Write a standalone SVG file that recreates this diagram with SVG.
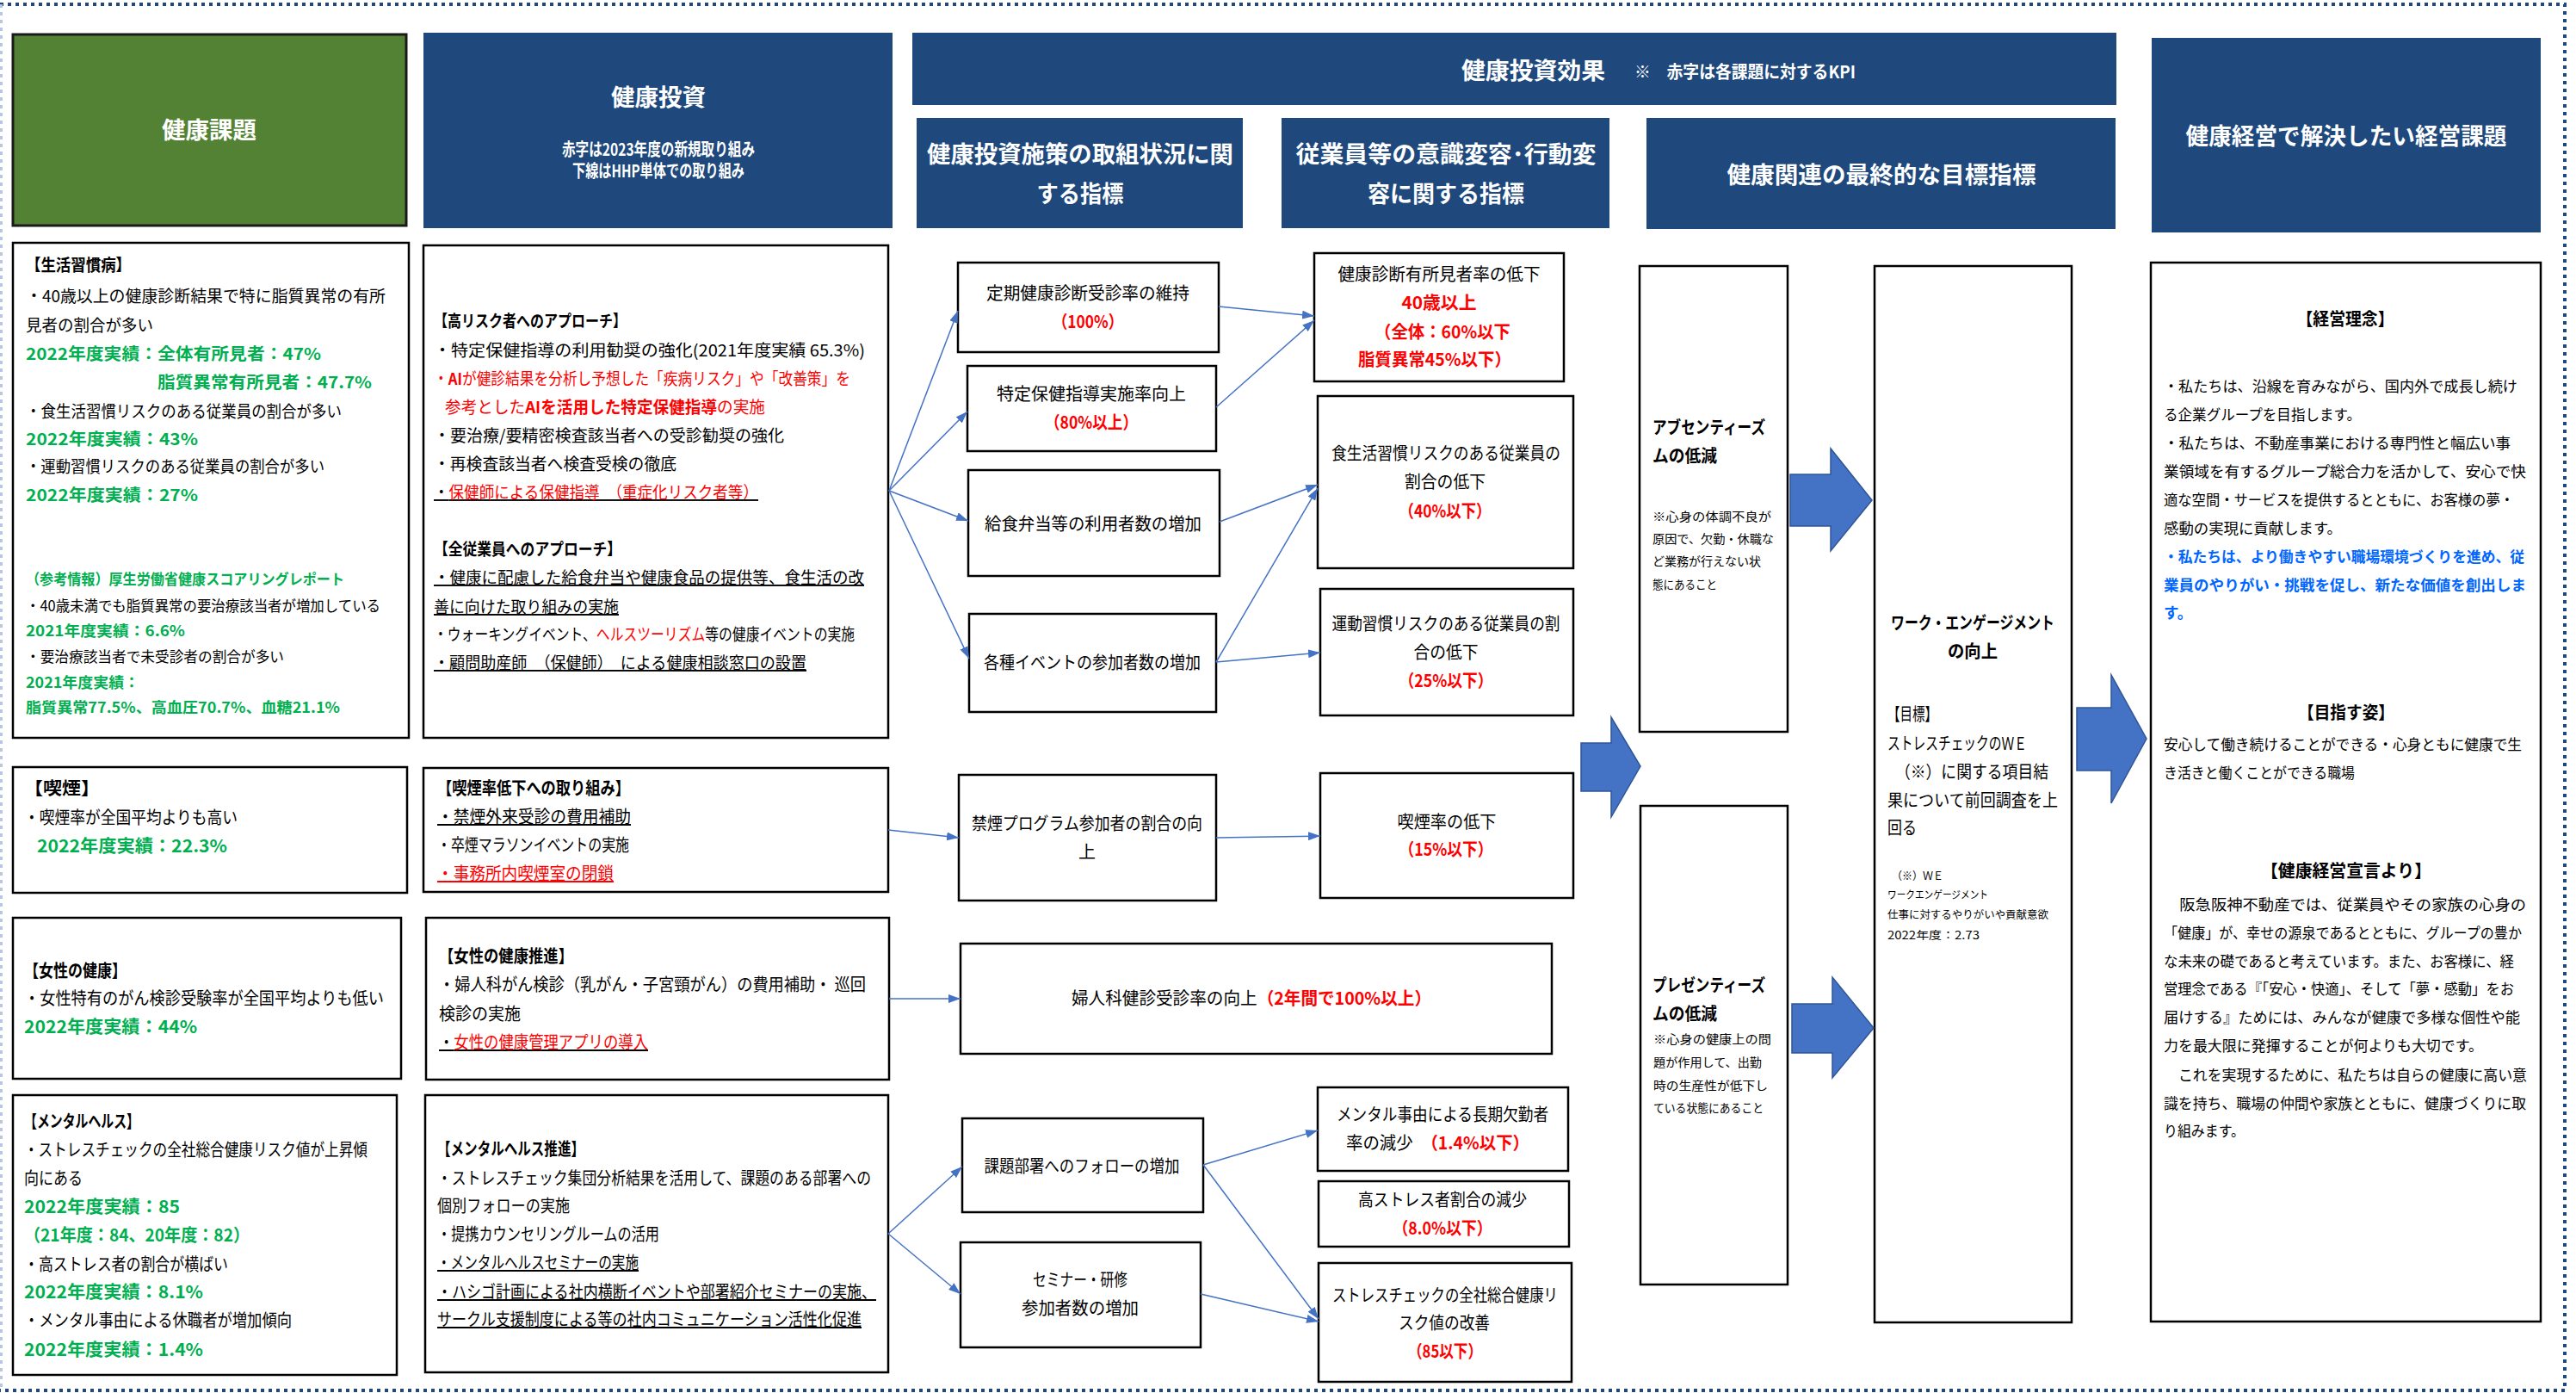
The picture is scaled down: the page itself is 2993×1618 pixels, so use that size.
<svg xmlns="http://www.w3.org/2000/svg" width="2993" height="1618" viewBox="0 0 2993 1618">
<style>
text{font-family:"Noto Sans CJK JP","Noto Sans",sans-serif;fill:#000;font-size:20px}
.b{font-weight:bold}
.g{fill:#00B050;font-weight:bold}
.r{fill:#FF0000}
.rb{fill:#FF0000;font-weight:bold}
.u{text-decoration:underline}
.w{fill:#fff;font-weight:bold}
.hd{fill:#fff;font-weight:bold;font-size:27px}
.m{text-anchor:middle}
.s19{font-size:19px}
.s17{font-size:17px}
.s175{font-size:17.5px}
.s135{font-size:13.5px}
.s125{font-size:12.5px}
.box{fill:#fff;stroke:#000;stroke-width:2.5}
.nav{fill:#1F497D}
.conn{stroke:#4472C4;stroke-width:1.5;fill:none;marker-end:url(#ah)}
.big{fill:#4472C4;stroke:#2F5597;stroke-width:1.5}
.bl{fill:#0066FF;font-weight:bold}
</style>
<defs>
<marker id="ah" viewBox="0 0 14 10" refX="14" refY="5" markerWidth="14" markerHeight="10" markerUnits="userSpaceOnUse" orient="auto"><path d="M0,0 L14,5 L0,10 z" fill="#4472C4"/></marker>
</defs>
<rect width="2993" height="1618" fill="#fff"/>
<g id="frame" fill="none">
<path d="M0,5 H2980 V1615 H0" stroke="#1F497D" stroke-width="4" stroke-dasharray="4 5"/>
<path d="M1.5,5 V1615" stroke="#B4C7E7" stroke-width="3" stroke-dasharray="4 5"/>
</g>

<g id="h-kadai"><rect x="15" y="40" width="457" height="222" fill="#548235" stroke="#1a1a1a" stroke-width="3"/><text class="hd m" x="243" y="161" textLength="110" lengthAdjust="spacingAndGlyphs">健康課題</text></g>
<g id="h-toushi"><rect class="nav" x="492" y="38" width="545" height="227"/><text class="hd m" x="765" y="123" textLength="110" lengthAdjust="spacingAndGlyphs">健康投資</text><text class="w m" x="765" y="181" font-size="15" textLength="224" lengthAdjust="spacingAndGlyphs">赤字は2023年度の新規取り組み</text><text class="w m" x="765" y="206" font-size="15" textLength="200" lengthAdjust="spacingAndGlyphs">下線はHHP単体での取り組み</text></g>
<g id="h-kouka"><rect class="nav" x="1060" y="38" width="1399" height="84"/><text class="hd" x="1698" y="92" textLength="167" lengthAdjust="spacingAndGlyphs">健康投資効果</text><text class="w" x="1899" y="91" font-size="17" textLength="257" lengthAdjust="spacingAndGlyphs">※　赤字は各課題に対するKPI</text></g>
<g id="h-shisaku"><rect class="nav" x="1065" y="137" width="379" height="128"/><text class="hd m" x="1255" y="189" textLength="356" lengthAdjust="spacingAndGlyphs">健康投資施策の取組状況に関</text><text class="hd m" x="1255" y="235" textLength="101" lengthAdjust="spacingAndGlyphs">する指標</text></g>
<g id="h-ishiki"><rect class="nav" x="1489" y="137" width="381" height="128"/><text class="hd m" x="1680" y="189" textLength="349" lengthAdjust="spacingAndGlyphs">従業員等の意識変容･行動変</text><text class="hd m" x="1680" y="235" textLength="182" lengthAdjust="spacingAndGlyphs">容に関する指標</text></g>
<g id="h-saishu"><rect class="nav" x="1913" y="137" width="545" height="129"/><text class="hd m" x="2186" y="213" textLength="359" lengthAdjust="spacingAndGlyphs">健康関連の最終的な目標指標</text></g>
<g id="h-keiei"><rect class="nav" x="2500" y="44" width="452" height="226"/><text class="hd m" x="2726" y="168" textLength="373" lengthAdjust="spacingAndGlyphs">健康経営で解決したい経営課題</text></g>

<g id="n-seikatsu"><rect class="box" x="15" y="282" width="460" height="575"/>
<text class="b s19" x="30" y="315" textLength="122" lengthAdjust="spacingAndGlyphs">【生活習慣病】</text>
<text class="s19" x="30" y="351" textLength="418" lengthAdjust="spacingAndGlyphs">・40歳以上の健康診断結果で特に脂質異常の有所</text>
<text class="s19" x="30" y="385" textLength="148" lengthAdjust="spacingAndGlyphs">見者の割合が多い</text>
<text class="g s19" x="30" y="418" textLength="343" lengthAdjust="spacingAndGlyphs">2022年度実績：全体有所見者：47%</text>
<text class="g s19" x="183" y="451" textLength="249" lengthAdjust="spacingAndGlyphs">脂質異常有所見者：47.7%</text>
<text class="s19" x="30" y="485" textLength="367" lengthAdjust="spacingAndGlyphs">・食生活習慣リスクのある従業員の割合が多い</text>
<text class="g s19" x="30" y="517" textLength="200" lengthAdjust="spacingAndGlyphs">2022年度実績：43%</text>
<text class="s19" x="30" y="549" textLength="347" lengthAdjust="spacingAndGlyphs">・運動習慣リスクのある従業員の割合が多い</text>
<text class="g s19" x="30" y="582" textLength="200" lengthAdjust="spacingAndGlyphs">2022年度実績：27%</text>
<text class="g s17" x="30" y="679" textLength="370" lengthAdjust="spacingAndGlyphs">（参考情報）厚生労働省健康スコアリングレポート</text>
<text class="s17" x="30" y="710" textLength="412" lengthAdjust="spacingAndGlyphs">・40歳未満でも脂質異常の要治療該当者が増加している</text>
<text class="g s17" x="30" y="739" textLength="185" lengthAdjust="spacingAndGlyphs">2021年度実績：6.6%</text>
<text class="s17" x="30" y="769" textLength="300" lengthAdjust="spacingAndGlyphs">・要治療該当者で未受診者の割合が多い</text>
<text class="g s17" x="30" y="799" textLength="132" lengthAdjust="spacingAndGlyphs">2021年度実績：</text>
<text class="g s17" x="30" y="828" textLength="365" lengthAdjust="spacingAndGlyphs">脂質異常77.5%、高血圧70.7%、血糖21.1%</text>
</g>

<g id="n-kitsuen"><rect class="box" x="15" y="891" width="458" height="146"/>
<text class="b" x="28" y="923" textLength="88" lengthAdjust="spacingAndGlyphs">【喫煙】</text>
<text x="28" y="957" textLength="248" lengthAdjust="spacingAndGlyphs">・喫煙率が全国平均よりも高い</text>
<text class="g" x="43" y="990" textLength="221" lengthAdjust="spacingAndGlyphs">2022年度実績：22.3%</text>
</g>
<g id="n-josei"><rect class="box" x="15" y="1066" width="451" height="187"/>
<text class="b" x="28" y="1135" textLength="119" lengthAdjust="spacingAndGlyphs">【女性の健康】</text>
<text x="28" y="1167" textLength="418" lengthAdjust="spacingAndGlyphs">・女性特有のがん検診受験率が全国平均よりも低い</text>
<text class="g" x="28" y="1200" textLength="201" lengthAdjust="spacingAndGlyphs">2022年度実績：44%</text>
</g>
<g id="n-mental"><rect class="box" x="15" y="1272" width="446" height="325"/>
<text class="b" x="28" y="1310" textLength="134" lengthAdjust="spacingAndGlyphs">【メンタルヘルス】</text>
<text x="28" y="1343" textLength="399" lengthAdjust="spacingAndGlyphs">・ストレスチェックの全社総合健康リスク値が上昇傾</text>
<text x="28" y="1376" textLength="68" lengthAdjust="spacingAndGlyphs">向にある</text>
<text class="g" x="28" y="1409" textLength="181" lengthAdjust="spacingAndGlyphs">2022年度実績：85</text>
<text class="g" x="28" y="1442" textLength="262" lengthAdjust="spacingAndGlyphs">（21年度：84、20年度：82）</text>
<text x="28" y="1476" textLength="237" lengthAdjust="spacingAndGlyphs">・高ストレス者の割合が横ばい</text>
<text class="g" x="28" y="1508" textLength="208" lengthAdjust="spacingAndGlyphs">2022年度実績：8.1%</text>
<text x="28" y="1541" textLength="311" lengthAdjust="spacingAndGlyphs">・メンタル事由による休職者が増加傾向</text>
<text class="g" x="28" y="1575" textLength="208" lengthAdjust="spacingAndGlyphs">2022年度実績：1.4%</text>
</g>

<g id="n-koRisk"><rect class="box" x="492" y="285" width="540" height="572"/>
<text class="b s19" x="504" y="380" textLength="224" lengthAdjust="spacingAndGlyphs">【高リスク者へのアプローチ】</text>
<text class="s19" x="504" y="414" textLength="501" lengthAdjust="spacingAndGlyphs">・特定保健指導の利用勧奨の強化(2021年度実績 65.3%)</text>
<text class="s19 r" x="504" y="447" textLength="484" lengthAdjust="spacingAndGlyphs">・<tspan class="rb">AI</tspan>が健診結果を分析し予想した「疾病リスク」や「改善策」を</text>
<text class="s19 r" x="517" y="480" textLength="372" lengthAdjust="spacingAndGlyphs">参考とした<tspan class="rb">AIを活用した特定保健指導</tspan>の実施</text>
<text class="s19" x="504" y="513" textLength="407" lengthAdjust="spacingAndGlyphs">・要治療/要精密検査該当者への受診勧奨の強化</text>
<text class="s19" x="504" y="546" textLength="282" lengthAdjust="spacingAndGlyphs">・再検査該当者へ検査受検の徹底</text>
<text class="s19 u" x="504" y="579" textLength="377" lengthAdjust="spacingAndGlyphs">・<tspan class="r">保健師による保健指導　（重症化リスク者等）</tspan></text>
<text class="b s19" x="504" y="645" textLength="218" lengthAdjust="spacingAndGlyphs">【全従業員へのアプローチ】</text>
<text class="s19 u" x="504" y="678" textLength="500" lengthAdjust="spacingAndGlyphs">・健康に配慮した給食弁当や健康食品の提供等、食生活の改</text>
<text class="s19 u" x="504" y="712" textLength="215" lengthAdjust="spacingAndGlyphs">善に向けた取り組みの実施</text>
<text class="s19" x="0" y="0" transform="translate(504 744) scale(0.832 1)">・ウォーキングイベント、<tspan class="r">ヘルスツーリズム</tspan>等の健康イベントの実施</text>
<text class="s19 u" x="504" y="777" textLength="433" lengthAdjust="spacingAndGlyphs">・顧問助産師　（保健師）　による健康相談窓口の設置</text>
</g>

<g id="n-kinen"><rect class="box" x="492" y="892" width="540" height="144"/>
<text class="b" x="508" y="923" textLength="224" lengthAdjust="spacingAndGlyphs">【喫煙率低下への取り組み】</text>
<text class="u" x="508" y="956" textLength="225" lengthAdjust="spacingAndGlyphs">・禁煙外来受診の費用補助</text>
<text x="508" y="989" textLength="223" lengthAdjust="spacingAndGlyphs">・卒煙マラソンイベントの実施</text>
<text class="u r" x="508" y="1022" textLength="205" lengthAdjust="spacingAndGlyphs">・事務所内喫煙室の閉鎖</text>
</g>
<g id="n-joseiSuishin"><rect class="box" x="495" y="1066" width="538" height="188"/>
<text class="b" x="510" y="1118" textLength="156" lengthAdjust="spacingAndGlyphs">【女性の健康推進】</text>
<text x="510" y="1151" textLength="496" lengthAdjust="spacingAndGlyphs">・婦人科がん検診（乳がん・子宮頸がん）の費用補助・ 巡回</text>
<text x="510" y="1185" textLength="95" lengthAdjust="spacingAndGlyphs">検診の実施</text>
<text class="u" x="510" y="1218" textLength="243" lengthAdjust="spacingAndGlyphs">・<tspan class="r">女性の健康管理アプリの導入</tspan></text>
</g>
<g id="n-mentalSuishin"><rect class="box" x="494" y="1272" width="538" height="322"/>
<text class="b" x="508" y="1342" textLength="171" lengthAdjust="spacingAndGlyphs">【メンタルヘルス推進】</text>
<text x="508" y="1376" textLength="504" lengthAdjust="spacingAndGlyphs">・ストレスチェック集団分析結果を活用して、課題のある部署への</text>
<text x="508" y="1408" textLength="154" lengthAdjust="spacingAndGlyphs">個別フォローの実施</text>
<text x="508" y="1441" textLength="258" lengthAdjust="spacingAndGlyphs">・提携カウンセリングルームの活用</text>
<text class="u" x="508" y="1474" textLength="234" lengthAdjust="spacingAndGlyphs">・メンタルヘルスセミナーの実施</text>
<text class="u" x="508" y="1508" textLength="510" lengthAdjust="spacingAndGlyphs">・ハシゴ計画による社内横断イベントや部署紹介セミナーの実施、</text>
<text class="u" x="508" y="1540" textLength="493" lengthAdjust="spacingAndGlyphs">サークル支援制度による等の社内コミュニケーション活性化促進</text>
</g>

<g id="n-teiki"><rect class="box" x="1113" y="305" width="303" height="104"/>
<text class="m" x="1264" y="348" textLength="236" lengthAdjust="spacingAndGlyphs">定期健康診断受診率の維持</text>
<text class="m rb" x="1264" y="381" textLength="82" lengthAdjust="spacingAndGlyphs">（100%）</text></g>
<g id="n-tokutei"><rect class="box" x="1124" y="425" width="289" height="99"/>
<text class="m" x="1268" y="465" textLength="220" lengthAdjust="spacingAndGlyphs">特定保健指導実施率向上</text>
<text class="m rb" x="1268" y="498" textLength="108" lengthAdjust="spacingAndGlyphs">（80%以上）</text></g>
<g id="n-kyushoku"><rect class="box" x="1125" y="546" width="292" height="123"/>
<text class="m" x="1270" y="616" textLength="252" lengthAdjust="spacingAndGlyphs">給食弁当等の利用者数の増加</text></g>
<g id="n-event"><rect class="box" x="1126" y="713" width="287" height="114"/>
<text class="m" x="1269" y="777" textLength="252" lengthAdjust="spacingAndGlyphs">各種イベントの参加者数の増加</text></g>
<g id="n-kinenProg"><rect class="box" x="1114" y="900" width="299" height="146"/>
<text class="m" x="1263" y="964" textLength="268" lengthAdjust="spacingAndGlyphs">禁煙プログラム参加者の割合の向</text>
<text class="m" x="1263" y="997">上</text></g>
<g id="n-fujinka"><rect class="box" x="1116" y="1096" width="687" height="128"/>
<text x="1245" y="1167" textLength="418" lengthAdjust="spacingAndGlyphs">婦人科健診受診率の向上<tspan class="rb">（2年間で100%以上）</tspan></text></g>
<g id="n-kadaiBusho"><rect class="box" x="1118" y="1299" width="280" height="109"/>
<text class="m" x="1257" y="1362" textLength="227" lengthAdjust="spacingAndGlyphs">課題部署へのフォローの増加</text></g>
<g id="n-seminar"><rect class="box" x="1116" y="1443" width="279" height="122"/>
<text class="m" x="1255" y="1494" textLength="110" lengthAdjust="spacingAndGlyphs">セミナー・研修</text>
<text class="m" x="1255" y="1527" textLength="136" lengthAdjust="spacingAndGlyphs">参加者数の増加</text></g>

<g id="n-yushoken"><rect class="box" x="1527" y="294" width="290" height="149"/>
<text class="m" x="1672" y="326" textLength="235" lengthAdjust="spacingAndGlyphs">健康診断有所見者率の低下</text>
<text class="m rb" x="1672" y="359" textLength="87" lengthAdjust="spacingAndGlyphs">40歳以上</text>
<text class="m rb" x="1676" y="393" textLength="158" lengthAdjust="spacingAndGlyphs">（全体：60%以下</text>
<text class="m rb" x="1667" y="425" textLength="178" lengthAdjust="spacingAndGlyphs">脂質異常45%以下）</text></g>
<g id="n-shokuseikatsu"><rect class="box" x="1531" y="460" width="297" height="200"/>
<text class="m" x="1680" y="534" textLength="266" lengthAdjust="spacingAndGlyphs">食生活習慣リスクのある従業員の</text>
<text class="m" x="1679" y="567" textLength="94" lengthAdjust="spacingAndGlyphs">割合の低下</text>
<text class="m rb" x="1679" y="601" textLength="107" lengthAdjust="spacingAndGlyphs">（40%以下）</text></g>
<g id="n-undo"><rect class="box" x="1534" y="684" width="294" height="147"/>
<text class="m" x="1680" y="732" textLength="265" lengthAdjust="spacingAndGlyphs">運動習慣リスクのある従業員の割</text>
<text class="m" x="1680" y="765" textLength="75" lengthAdjust="spacingAndGlyphs">合の低下</text>
<text class="m rb" x="1680" y="798" textLength="109" lengthAdjust="spacingAndGlyphs">（25%以下）</text></g>
<g id="n-kitsuenritsu"><rect class="box" x="1534" y="898" width="294" height="145"/>
<text class="m" x="1681" y="962" textLength="115" lengthAdjust="spacingAndGlyphs">喫煙率の低下</text>
<text class="m rb" x="1680" y="994" textLength="109" lengthAdjust="spacingAndGlyphs">（15%以下）</text></g>
<g id="n-chouki"><rect class="box" x="1531" y="1263" width="291" height="97"/>
<text class="m" x="1676" y="1302" textLength="246" lengthAdjust="spacingAndGlyphs">メンタル事由による長期欠勤者</text>
<text x="1564" y="1335" textLength="213" lengthAdjust="spacingAndGlyphs">率の減少　<tspan class="rb">（1.4%以下）</tspan></text></g>
<g id="n-kostress"><rect class="box" x="1532" y="1372" width="291" height="76"/>
<text class="m" x="1676" y="1401" textLength="196" lengthAdjust="spacingAndGlyphs">高ストレス者割合の減少</text>
<text class="m rb" x="1676" y="1434" textLength="115" lengthAdjust="spacingAndGlyphs">（8.0%以下）</text></g>
<g id="n-stresscheck"><rect class="box" x="1532" y="1467" width="294" height="138"/>
<text class="m" x="1679" y="1512" textLength="262" lengthAdjust="spacingAndGlyphs">ストレスチェックの全社総合健康リ</text>
<text class="m" x="1678" y="1544" textLength="106" lengthAdjust="spacingAndGlyphs">スク値の改善</text>
<text class="m rb" x="1679" y="1577" textLength="86" lengthAdjust="spacingAndGlyphs">（85以下）</text></g>

<g id="n-absent"><rect class="box" x="1905" y="309" width="172" height="541"/>
<text class="b" x="1920" y="504" font-size="16.5" textLength="131" lengthAdjust="spacingAndGlyphs">アブセンティーズ</text>
<text class="b" x="1920" y="537" font-size="16.5" textLength="75" lengthAdjust="spacingAndGlyphs">ムの低減</text>
<text class="s135" x="1920" y="605" textLength="138" lengthAdjust="spacingAndGlyphs">※心身の体調不良が</text>
<text class="s135" x="1920" y="631" textLength="141" lengthAdjust="spacingAndGlyphs">原因で、欠勤・休職な</text>
<text class="s135" x="1920" y="657" textLength="126" lengthAdjust="spacingAndGlyphs">ど業務が行えない状</text>
<text class="s135" x="1920" y="684" textLength="75" lengthAdjust="spacingAndGlyphs">態にあること</text></g>
<g id="n-present"><rect class="box" x="1906" y="936" width="171" height="556"/>
<text class="b" x="1920" y="1152" font-size="16.5" textLength="131" lengthAdjust="spacingAndGlyphs">プレゼンティーズ</text>
<text class="b" x="1920" y="1185" font-size="16.5" textLength="75" lengthAdjust="spacingAndGlyphs">ムの低減</text>
<text class="s135" x="1921" y="1212" textLength="137" lengthAdjust="spacingAndGlyphs">※心身の健康上の問</text>
<text class="s135" x="1921" y="1239" textLength="126" lengthAdjust="spacingAndGlyphs">題が作用して、出勤</text>
<text class="s135" x="1921" y="1266" textLength="133" lengthAdjust="spacingAndGlyphs">時の生産性が低下し</text>
<text class="s135" x="1921" y="1292" textLength="128" lengthAdjust="spacingAndGlyphs">ている状態にあること</text></g>
<g id="n-we"><rect class="box" x="2178" y="309" width="229" height="1227"/>
<text class="b m" x="2292" y="731" font-size="17" textLength="190" lengthAdjust="spacingAndGlyphs">ワーク・エンゲージメント</text>
<text class="b m" x="2292" y="764" font-size="17" textLength="58" lengthAdjust="spacingAndGlyphs">の向上</text>
<text x="2193" y="837" font-size="18" textLength="58" lengthAdjust="spacingAndGlyphs">【目標】</text>
<text x="2193" y="871" font-size="18" textLength="162" lengthAdjust="spacingAndGlyphs">ストレスチェックのＷＥ</text>
<text x="2193" y="904" font-size="18" textLength="187" lengthAdjust="spacingAndGlyphs">　（※）に関する項目結</text>
<text x="2193" y="937" font-size="18" textLength="198" lengthAdjust="spacingAndGlyphs">果について前回調査を上</text>
<text x="2193" y="969" font-size="18" textLength="34" lengthAdjust="spacingAndGlyphs">回る</text>
<text class="s125" x="2198" y="1022" textLength="60" lengthAdjust="spacingAndGlyphs">（※）ＷＥ</text>
<text class="s125" x="2193" y="1044" textLength="117" lengthAdjust="spacingAndGlyphs">ワークエンゲージメント</text>
<text class="s125" x="2193" y="1067" textLength="187" lengthAdjust="spacingAndGlyphs">仕事に対するやりがいや貢献意欲</text>
<text class="s125" x="2193" y="1091" textLength="107" lengthAdjust="spacingAndGlyphs">2022年度：2.73</text></g>

<g id="n-keieikadai"><rect class="box" x="2499" y="305" width="453" height="1230"/>
<text class="b m" x="2725" y="378" font-size="19" textLength="113" lengthAdjust="spacingAndGlyphs">【経営理念】</text>
<text class="s175" x="2514" y="455" textLength="411" lengthAdjust="spacingAndGlyphs">・私たちは、沿線を育みながら、国内外で成長し続け</text>
<text class="s175" x="2514" y="488" textLength="229" lengthAdjust="spacingAndGlyphs">る企業グループを目指します。</text>
<text class="s175" x="2514" y="521" textLength="403" lengthAdjust="spacingAndGlyphs">・私たちは、不動産事業における専門性と幅広い事</text>
<text class="s175" x="2514" y="554" textLength="421" lengthAdjust="spacingAndGlyphs">業領域を有するグループ総合力を活かして、安心で快</text>
<text class="s175" x="2514" y="587" textLength="407" lengthAdjust="spacingAndGlyphs">適な空間・サービスを提供するとともに、お客様の夢・</text>
<text class="s175" x="2514" y="620" textLength="207" lengthAdjust="spacingAndGlyphs">感動の実現に貢献します。</text>
<text class="s175 bl" x="2514" y="653" textLength="419" lengthAdjust="spacingAndGlyphs">・私たちは、より働きやすい職場環境づくりを進め、従</text>
<text class="s175 bl" x="2514" y="686" textLength="421" lengthAdjust="spacingAndGlyphs">業員のやりがい・挑戦を促し、新たな価値を創出しま</text>
<text class="s175 bl" x="2514" y="718">す。</text>
<text class="b m" x="2726" y="835" font-size="19" textLength="112" lengthAdjust="spacingAndGlyphs">【目指す姿】</text>
<text class="s175" x="2514" y="871" textLength="416" lengthAdjust="spacingAndGlyphs">安心して働き続けることができる・心身ともに健康で生</text>
<text class="s175" x="2514" y="904" textLength="222" lengthAdjust="spacingAndGlyphs">き活きと働くことができる職場</text>
<text class="b m" x="2726" y="1019" font-size="19" textLength="198" lengthAdjust="spacingAndGlyphs">【健康経営宣言より】</text>
<text class="s175" x="2514" y="1057" textLength="421" lengthAdjust="spacingAndGlyphs">　阪急阪神不動産では、従業員やその家族の心身の</text>
<text class="s175" x="2514" y="1090" textLength="416" lengthAdjust="spacingAndGlyphs">「健康」が、幸せの源泉であるとともに、グループの豊か</text>
<text class="s175" x="2514" y="1123" textLength="407" lengthAdjust="spacingAndGlyphs">な未来の礎であると考えています。また、お客様に、経</text>
<text class="s175" x="2514" y="1155" textLength="407" lengthAdjust="spacingAndGlyphs">営理念である『「安心・快適」、そして「夢・感動」をお</text>
<text class="s175" x="2514" y="1188" textLength="414" lengthAdjust="spacingAndGlyphs">届けする』ためには、みんなが健康で多様な個性や能</text>
<text class="s175" x="2514" y="1221" textLength="371" lengthAdjust="spacingAndGlyphs">力を最大限に発揮することが何よりも大切です。</text>
<text class="s175" x="2514" y="1255" textLength="422" lengthAdjust="spacingAndGlyphs">　これを実現するために、私たちは自らの健康に高い意</text>
<text class="s175" x="2514" y="1288" textLength="421" lengthAdjust="spacingAndGlyphs">識を持ち、職場の仲間や家族とともに、健康づくりに取</text>
<text class="s175" x="2514" y="1320" textLength="94" lengthAdjust="spacingAndGlyphs">り組みます。</text></g>

<g id="connectors">
<line class="conn" x1="1033" y1="570" x2="1113" y2="361"/>
<line class="conn" x1="1033" y1="570" x2="1124" y2="478"/>
<line class="conn" x1="1033" y1="570" x2="1125" y2="605"/>
<line class="conn" x1="1033" y1="570" x2="1126" y2="765"/>
<line class="conn" x1="1416" y1="356" x2="1527" y2="367"/>
<line class="conn" x1="1413" y1="473" x2="1527" y2="372"/>
<line class="conn" x1="1417" y1="606" x2="1531" y2="563"/>
<line class="conn" x1="1413" y1="769" x2="1531" y2="567"/>
<line class="conn" x1="1413" y1="769" x2="1534" y2="758"/>
<line class="conn" x1="1032" y1="964" x2="1114" y2="973"/>
<line class="conn" x1="1413" y1="973" x2="1534" y2="971"/>
<line class="conn" x1="1033" y1="1160" x2="1116" y2="1160"/>
<line class="conn" x1="1032" y1="1433" x2="1118" y2="1355"/>
<line class="conn" x1="1032" y1="1433" x2="1116" y2="1503"/>
<line class="conn" x1="1398" y1="1353" x2="1531" y2="1313"/>
<line class="conn" x1="1398" y1="1353" x2="1532" y2="1532"/>
<line class="conn" x1="1395" y1="1503" x2="1532" y2="1535"/>
<polygon class="big" points="1837,863 1872,863 1872,833 1906,890 1872,949 1872,919 1837,919"/>
<polygon class="big" points="2080,551 2127,551 2127,521 2175,581 2127,640 2127,611 2080,611"/>
<polygon class="big" points="2082,1166 2129,1166 2129,1135 2177,1194 2129,1252 2129,1223 2082,1223"/>
<polygon class="big" points="2413,822 2453,822 2453,784 2494,858 2453,933 2453,895 2413,895"/>
</g>
</svg>
